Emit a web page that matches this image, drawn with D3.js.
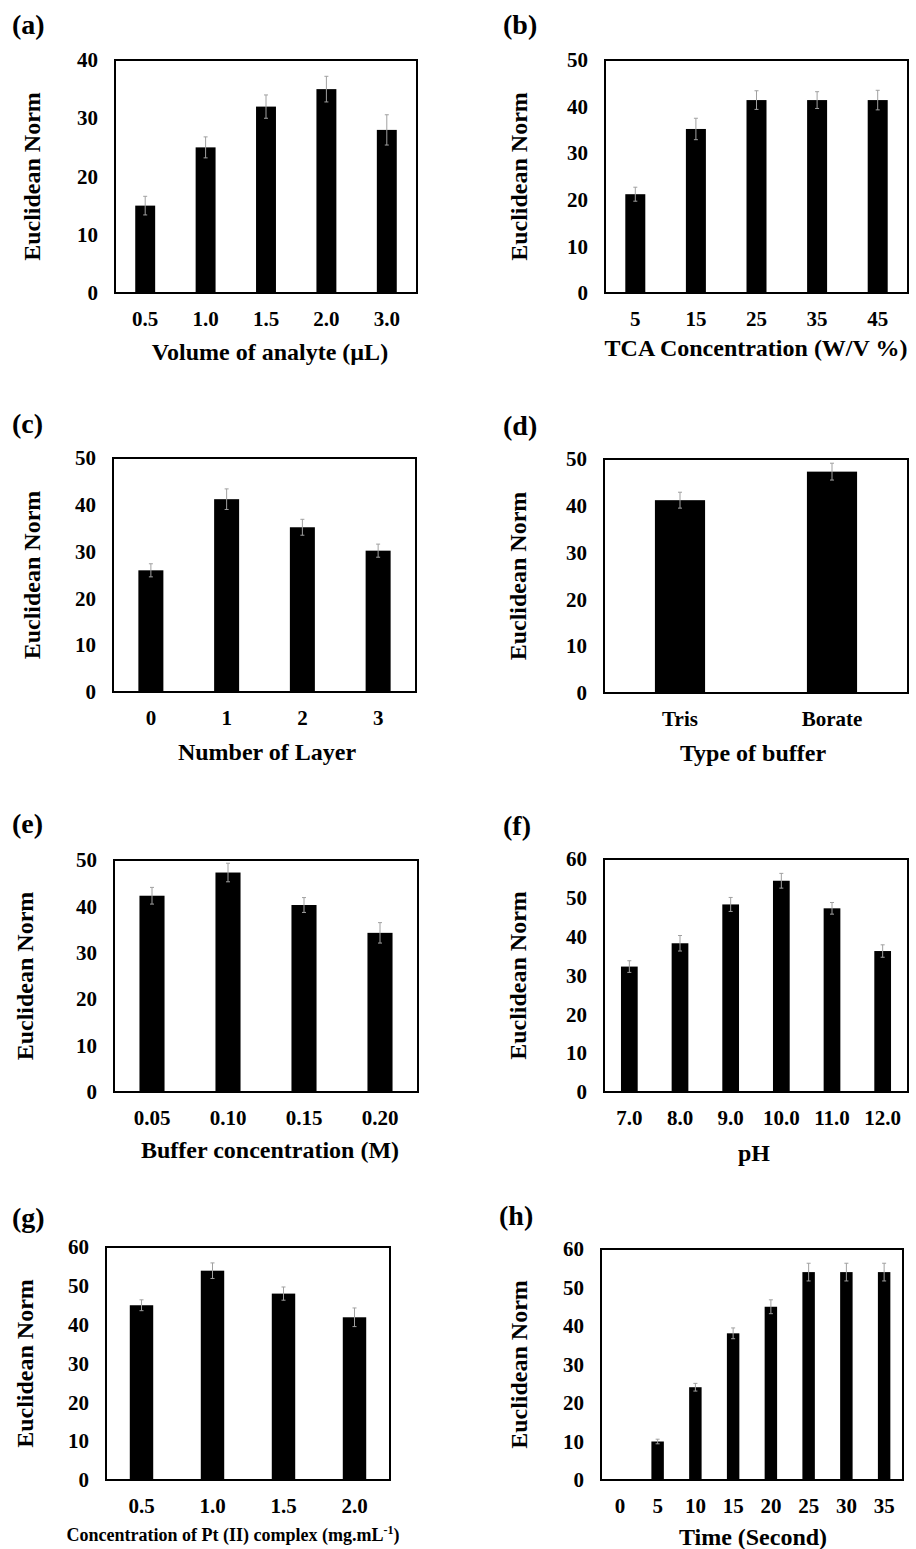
<!DOCTYPE html>
<html>
<head>
<meta charset="utf-8">
<script src="https://cdn.jsdelivr.net/npm/d3@7"></script>
<style>
  body { margin: 0; background: #fff; }
  text { font-family: "Liberation Serif", "Times New Roman", serif; font-weight: bold; }
</style>
</head>
<body>
<svg width="916" height="1549"></svg>
<script>
// data
const catsA = ['0.5', '1.0', '1.5', '2.0', '3.0'];
const valsA = [15, 25, 32, 35, 28];
const errA = [1.6, 1.8, 2.0, 2.2, 2.6];

const catsB = ['5', '15', '25', '35', '45'];
const valsB = [21.2, 35.2, 41.4, 41.4, 41.4];
const errB = [1.5, 2.3, 2.0, 1.8, 2.1];

const catsC = ['0', '1', '2', '3'];
const valsC = [26, 41.2, 35.2, 30.2];
const errC = [1.4, 2.2, 1.7, 1.4];

const catsD = ['Tris', 'Borate'];
const valsD = [41.2, 47.3];
const errD = [1.7, 1.8];

const catsE = ['0.05', '0.10', '0.15', '0.20'];
const valsE = [42.3, 47.3, 40.3, 34.3];
const errE = [1.8, 2.0, 1.6, 2.2];

const catsF = ['7.0', '8.0', '9.0', '10.0', '11.0', '12.0'];
const valsF = [32.3, 38.3, 48.3, 54.4, 47.3, 36.3];
const errF = [1.5, 2.0, 1.8, 1.9, 1.5, 1.6];

const catsG = ['0.5', '1.0', '1.5', '2.0'];
const valsG = [45, 53.9, 48, 41.9];
const errG = [1.4, 2.0, 1.7, 2.4];

const catsH = ['0', '5', '10', '15', '20', '25', '30', '35'];
const valsH = [0, 10, 24.1, 38.1, 45, 54, 54, 54];
const errH = [0, 0.6, 1.0, 1.4, 1.8, 2.3, 2.3, 2.3];

const yMaxes = [40, 50, 50, 50, 50, 60, 60, 60];
const letters = ['(a)', '(b)', '(c)', '(d)', '(e)', '(f)', '(g)', '(h)'];
const xTitles = ['Volume of analyte (\u00b5L)', 'TCA Concentration (W/V %)', 'Number of Layer',
  'Type of buffer', 'Buffer concentration (M)', 'pH', null, 'Time (Second)'];

const panelData = [
  [catsA, valsA, errA], [catsB, valsB, errB], [catsC, valsC, errC], [catsD, valsD, errD],
  [catsE, valsE, errE], [catsF, valsF, errF], [catsG, valsG, errG], [catsH, valsH, errH]
];

// layout: plot frame, label spot, title spots
const frames = [
  { x0: 115, x1: 417, y0: 60, y1: 293, lx: 12, ly: 24, tyx: 32, xtx: 270, xty: 352 },
  { x0: 605, x1: 908, y0: 60, y1: 293, lx: 503, ly: 24, tyx: 519, xtx: 756, xty: 348 },
  { x0: 113, x1: 416, y0: 458, y1: 692, lx: 12, ly: 423, tyx: 32, xtx: 267, xty: 752 },
  { x0: 604, x1: 908, y0: 459, y1: 693, lx: 503, ly: 425, tyx: 518, xtx: 753, xty: 753 },
  { x0: 114, x1: 418, y0: 860, y1: 1092, lx: 12, ly: 823, tyx: 25, xtx: 270, xty: 1150 },
  { x0: 604, x1: 908, y0: 859, y1: 1092, lx: 503, ly: 825, tyx: 518, xtx: 754, xty: 1153 },
  { x0: 106, x1: 390, y0: 1247, y1: 1480, lx: 12, ly: 1217, tyx: 25, xtx: 233, xty: 1535 },
  { x0: 601, x1: 903, y0: 1249, y1: 1480, lx: 499, ly: 1215, tyx: 519, xtx: 753, xty: 1537 }
];

const svg = d3.select('svg');

frames.forEach((f, i) => {
  const [cats, vals, errs] = panelData[i];
  const g = svg.append('g');

  const x = d3.scaleBand()
    .domain(cats)
    .range([f.x0, f.x1])
    .paddingInner(0.67)
    .paddingOuter(0.335);

  const y = d3.scaleLinear()
    .domain([0, yMaxes[i]])
    .range([f.y1, f.y0]);

  // panel letter
  g.append('text')
    .attr('x', f.lx)
    .attr('y', f.ly)
    .attr('dy', '0.35em')
    .attr('font-size', 28)
    .text(letters[i]);

  // y axis ticks
  const yAxis = d3.axisLeft(y).ticks(yMaxes[i] / 10).tickSize(0).tickPadding(17);
  const ya = g.append('g')
    .attr('transform', `translate(${f.x0},0)`)
    .call(yAxis);
  ya.select('.domain').remove();
  ya.selectAll('text')
    .attr('font-family', '"Liberation Serif", serif')
    .attr('font-weight', 'bold')
    .attr('font-size', 21)
    .attr('fill', '#000');

  // x axis ticks
  const xAxis = d3.axisBottom(x).tickSize(0).tickPadding(18);
  const xa = g.append('g')
    .attr('transform', `translate(0,${f.y1})`)
    .call(xAxis);
  xa.select('.domain').remove();
  xa.selectAll('text')
    .attr('font-family', '"Liberation Serif", serif')
    .attr('font-weight', 'bold')
    .attr('font-size', 21)
    .attr('fill', '#000');

  // bars
  g.selectAll('.bar')
    .data(vals)
    .join('rect')
    .attr('x', (d, j) => x(cats[j]))
    .attr('y', d => y(d))
    .attr('width', x.bandwidth())
    .attr('height', d => f.y1 - y(d))
    .attr('fill', '#000');

  // error bars
  const eb = g.selectAll('.err')
    .data(vals.map((v, j) => ({ v, e: errs[j], c: cats[j] })).filter(d => d.e > 0))
    .join('g')
    .attr('stroke', '#a0a0a0')
    .attr('stroke-width', 1);
  eb.append('line')
    .attr('x1', d => x(d.c) + x.bandwidth() / 2)
    .attr('x2', d => x(d.c) + x.bandwidth() / 2)
    .attr('y1', d => y(d.v - d.e))
    .attr('y2', d => y(d.v + d.e));
  eb.append('line')
    .attr('x1', d => x(d.c) + x.bandwidth() / 2 - 2)
    .attr('x2', d => x(d.c) + x.bandwidth() / 2 + 2)
    .attr('y1', d => y(d.v + d.e))
    .attr('y2', d => y(d.v + d.e));
  eb.append('line')
    .attr('x1', d => x(d.c) + x.bandwidth() / 2 - 2)
    .attr('x2', d => x(d.c) + x.bandwidth() / 2 + 2)
    .attr('y1', d => y(d.v - d.e))
    .attr('y2', d => y(d.v - d.e));

  // frame
  g.append('rect')
    .attr('x', f.x0)
    .attr('y', f.y0)
    .attr('width', f.x1 - f.x0)
    .attr('height', f.y1 - f.y0)
    .attr('fill', 'none')
    .attr('stroke', '#000')
    .attr('stroke-width', 2);

  // y title
  g.append('text')
    .attr('transform', `translate(${f.tyx},${(f.y0 + f.y1) / 2}) rotate(-90)`)
    .attr('text-anchor', 'middle')
    .attr('dy', '0.35em')
    .attr('font-size', 24)
    .text('Euclidean Norm');

  // x title
  const xt = g.append('text')
    .attr('x', f.xtx)
    .attr('y', f.xty)
    .attr('text-anchor', 'middle')
    .attr('dy', '0.35em');
  if (xTitles[i]) {
    xt.attr('font-size', 24).text(xTitles[i]);
  } else {
    xt.attr('font-size', 18).text('Concentration of Pt (II) complex (mg.mL');
    xt.append('tspan').attr('font-size', 12).attr('dy', '-0.6em').text('-1');
    xt.append('tspan').attr('dy', '0.4em').text(')');
  }
});
</script>
</body>
</html>
